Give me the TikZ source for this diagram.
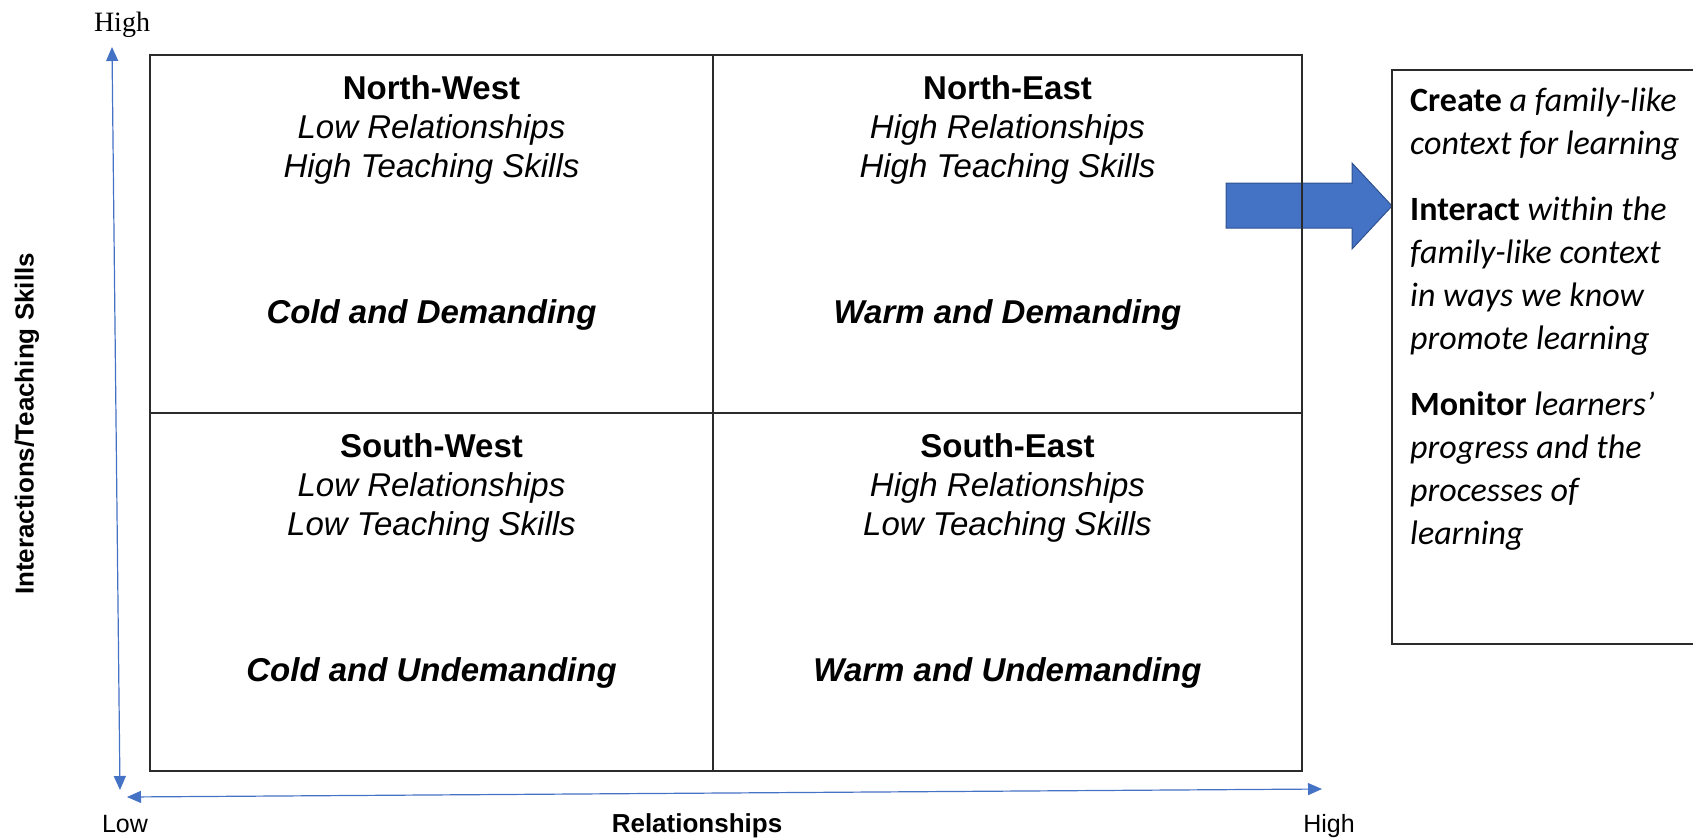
\documentclass[tikz,border=0pt]{standalone}
\usepackage{fontspec}
\setmainfont{Liberation Sans}
\newfontfamily\timesfont{Liberation Serif}
\newfontfamily\calibrifont{Carlito}
\usetikzlibrary{positioning}
\usetikzlibrary{arrows.meta}
\definecolor{axisblue}{HTML}{4472C4}
\definecolor{arrowedge}{HTML}{2F528F}
\definecolor{gridline}{HTML}{2B2B2B}
\tikzstyle{quadrant} = [rectangle, draw=gridline, line width=1.5pt,
                        minimum height=358pt, inner sep=0pt, outer sep=0pt]
\tikzstyle{heading} = [align=center, anchor=base, inner sep=0pt,
                       font=\fontsize{33}{39}\selectfont]
\tikzstyle{climate} = [heading, font=\fontsize{33}{39}\selectfont\bfseries\itshape]
\tikzstyle{axis} = [axisblue, line width=1.2pt,
                    {Triangle[length=14pt,width=12pt]}-{Triangle[length=14pt,width=12pt]}]
\tikzstyle{axislabel} = [anchor=base, inner sep=0pt, font=\fontsize{25}{30}\selectfont]
\tikzstyle{bigarrow} = [fill=axisblue, draw=arrowedge, line width=1pt]
\newcommand{\quadtext}[5][]{\node [heading, #1] (#2) {\textbf{#3}\\ \textit{#4}\\ \textit{#5}};}

\begin{document}
\begin{tikzpicture}[x=1pt, y=-1pt]
  \useasboundingbox (0,0) rectangle (1693,838);

  % block arrow first, so the frame lines run over it
  \coordinate (tip) at (1392,206);
  \draw [bigarrow] (1226,183) -- (1352,183) -- (1352,163) -- (tip)
    -- (1352,249) -- (1352,228) -- (1226,228) -- cycle;

  % the four quadrants
  \node [quadrant, minimum width=563pt] (nw) at (431.5,234) {};
  \node [quadrant, minimum width=589pt, right=0pt of nw] (ne) {};
  \node [quadrant, minimum width=563pt, below=0pt of nw] (sw) {};
  \node [quadrant, minimum width=589pt, right=0pt of sw] (se) {};

  % base of a heading is its last line
  \quadtext[at=(nw.center), yshift=57pt]{nwhead}{North-West}
    {Low Relationships}{High Teaching Skills}
  \quadtext[at=(ne.center), yshift=57pt]{nehead}{North-East}
    {High Relationships}{High Teaching Skills}
  \quadtext[at=(sw.center), yshift=57pt]{swhead}{South-West}
    {Low Relationships}{Low Teaching Skills}
  \quadtext[at=(se.center), yshift=57pt]{sehead}{South-East}
    {High Relationships}{Low Teaching Skills}

  \node [climate, at=(nw.center), yshift=-89pt] (nwtype) {Cold and Demanding};
  \node [climate, at=(ne.center), yshift=-89pt] (netype) {Warm and Demanding};
  \node [climate, at=(sw.center), yshift=-89pt] (swtype) {Cold and Undemanding};
  \node [climate, at=(se.center), yshift=-89pt] (setype) {Warm and Undemanding};

  % axes
  \coordinate (vtop) at (112,47);
  \coordinate (vbot) at (120,790);
  \coordinate (hleft) at (127,797);
  \coordinate (hright) at (1322,789);
  \draw [axis] (vbot) -- (vtop);
  \draw [axis] (hleft) -- (hright);

  \node [axislabel, font=\timesfont\fontsize{28}{30}\selectfont] (yhigh) at (122,31) {High};
  \node [axislabel] (xlow) at (125,832) {Low};
  \node [axislabel] (xhigh) at (1329,832) {High};
  \node [axislabel, font=\fontsize{26}{30}\selectfont\bfseries] (xname) at (697,832) {Relationships};
  \node [axislabel, anchor=center, rotate=90, font=\fontsize{26}{30}\selectfont\bfseries]
    (yname) at (27,424) {Interactions/Teaching Skills};

  % what to do in the north-east
  \node [draw=gridline, line width=1.5pt, outer sep=0pt, anchor=west,
         minimum width=320pt, minimum height=574pt, yshift=-151pt] (plan) at (tip) {};
  \node [anchor=base west, inner sep=0pt, align=left,
         font=\calibrifont\fontsize{34}{43}\selectfont] (steps) at (1410,544)
    {\textbf{Create} \textit{a family-like}\\
     \textit{context for learning}\\[23pt]
     \textbf{Interact} \textit{within the}\\
     \textit{family-like context}\\
     \textit{in ways we know}\\
     \textit{promote learning}\\[23pt]
     \textbf{Monitor} \textit{learners’}\\
     \textit{progress and the}\\
     \textit{processes of}\\
     \textit{learning}};
\end{tikzpicture}
\end{document}
